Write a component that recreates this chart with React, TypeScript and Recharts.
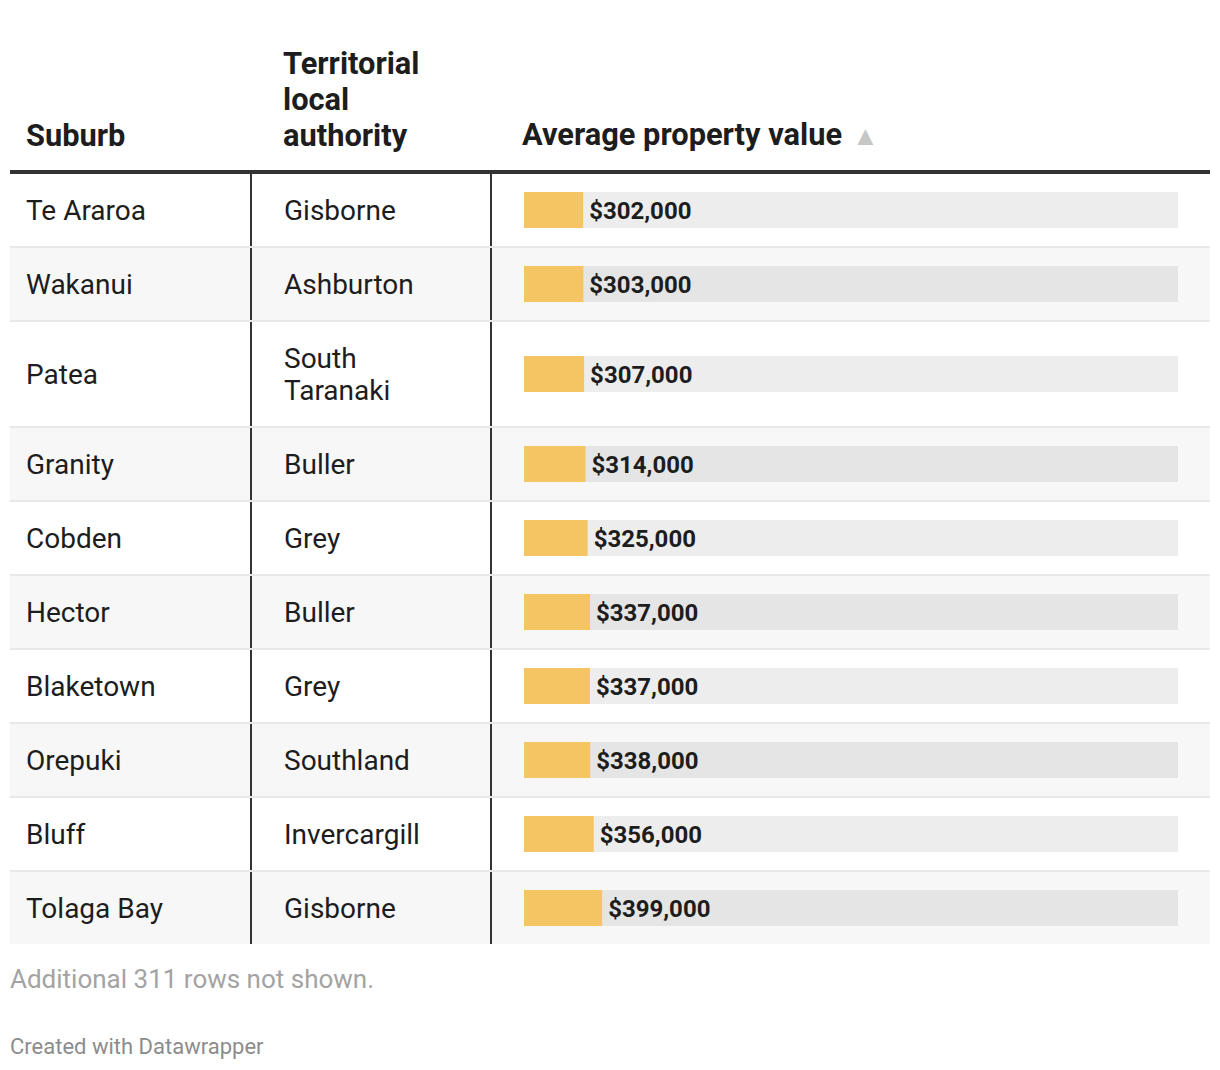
import React from 'react';
import { BarChart, Bar, XAxis, YAxis, LabelList } from 'recharts';

const suburbs = ['Te Araroa', 'Wakanui', 'Patea', 'Granity', 'Cobden', 'Hector', 'Blaketown', 'Orepuki', 'Bluff', 'Tolaga Bay'];
const authorities = ['Gisborne', 'Ashburton', 'South Taranaki', 'Buller', 'Grey', 'Buller', 'Grey', 'Southland', 'Invercargill', 'Gisborne'];
const values = [302000, 303000, 307000, 314000, 325000, 337000, 337000, 338000, 356000, 399000];
const headers = ['Suburb', 'Territorial local authority', 'Average property value'];
const domainMax = 3340000;
const footNote = 'Additional 311 rows not shown.';
const credit = 'Created with Datawrapper';

const rows = suburbs.map((s, i) => ({ suburb: s, authority: authorities[i], value: values[i] }));

const FONT = 'Roboto, "Noto Sans", sans-serif';
const DARK = '#333333';

const fmt = (v: any) => '$' + Number(v).toLocaleString('en-US');

function RowBar({ row }: { row: { suburb: string; authority: string; value: number } }) {
  return (
    <BarChart
      width={654}
      height={40}
      data={[row]}
      layout="vertical"
      margin={{ top: 0, right: 0, bottom: 0, left: 0 }}
      barCategoryGap={0}
    >
      <XAxis type="number" hide domain={[0, domainMax]} />
      <YAxis type="category" dataKey="suburb" hide />
      <Bar
        dataKey="value"
        fill="#f5c463"
        barSize={40}
        isAnimationActive={false}
        background={{ fill: 'rgba(0,0,0,0.07)' }}
      >
        <LabelList
          dataKey="value"
          position="right"
          offset={6}
          formatter={fmt}
          style={{ fontFamily: FONT, fontWeight: 700, fontSize: 24, fill: '#1d1d1d' }}
        />
      </Bar>
    </BarChart>
  );
}

export default function App() {
  const colW = [242, 240, 718];
  const textCell = {
    boxSizing: 'border-box' as const,
    display: 'flex',
    alignItems: 'center',
    borderRight: `2px solid ${DARK}`,
  };
  return (
    <div style={{ fontFamily: FONT, color: '#1d1d1d', width: 1200, marginLeft: 2, boxSizing: 'border-box' }}>
      {/* header */}
      <div
        style={{
          display: 'flex',
          alignItems: 'flex-end',
          height: 166,
          borderBottom: `4px solid ${DARK}`,
          boxSizing: 'border-box',
          fontWeight: 700,
          fontSize: 30.8,
          lineHeight: '36px',
        }}
      >
        <div style={{ width: colW[0], paddingLeft: 16, paddingBottom: 16, boxSizing: 'border-box' }}>{headers[0]}</div>
        <div style={{ width: colW[1], paddingLeft: 31, paddingRight: 30, paddingBottom: 16, boxSizing: 'border-box' }}>{headers[1]}</div>
        <div style={{ width: colW[2], paddingLeft: 30, paddingBottom: 16, boxSizing: 'border-box', whiteSpace: 'nowrap' }}>
          {headers[2]}
          <span style={{ color: '#c6c6c6', fontSize: 27, fontWeight: 400, marginLeft: 10, display: 'inline-block', lineHeight: '36px' }}>▲</span>
        </div>
      </div>
      {/* body */}
      {rows.map((r, i) => (
        <div
          key={r.suburb}
          style={{
            display: 'flex',
            alignItems: 'stretch',
            background: i % 2 === 0 ? '#ffffff' : '#f7f7f7',
            borderTop: i > 0 ? '2px solid #e8e8e8' : 'none',
            fontSize: 28,
            lineHeight: '32px',
          }}
        >
          <div style={{ ...textCell, width: colW[0], padding: '21px 16px 19px 16px' }}>{r.suburb}</div>
          <div style={{ ...textCell, width: colW[1], padding: '21px 40px 19px 32px' }}>{r.authority}</div>
          <div
            style={{
              width: colW[2],
              padding: '16px 32px 16px 32px',
              boxSizing: 'border-box',
              display: 'flex',
              alignItems: 'center',
            }}
          >
            <RowBar row={r} />
          </div>
        </div>
      ))}
      <div style={{ marginTop: 19, fontSize: 26, lineHeight: '32px', color: '#a3a3a3' }}>{footNote}</div>
      <div style={{ marginTop: 38, fontSize: 22, lineHeight: '28px', color: '#8c8c8c' }}>{credit}</div>
    </div>
  );
}
